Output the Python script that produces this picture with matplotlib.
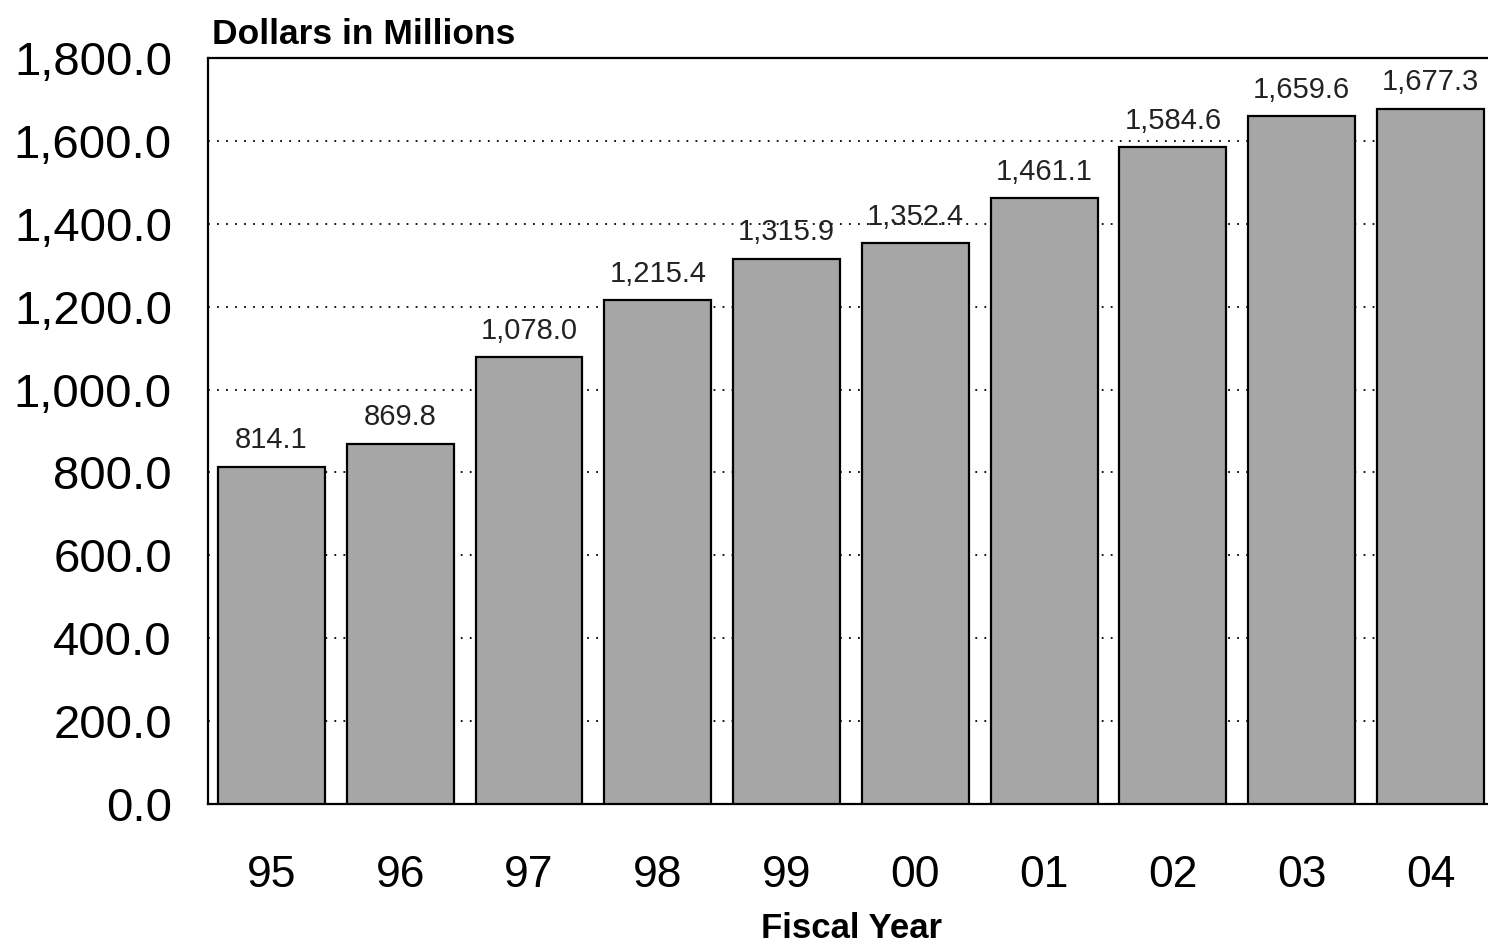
import matplotlib
matplotlib.use("Agg")
import matplotlib.pyplot as plt
from matplotlib.ticker import FuncFormatter

# datos
years = ["95", "96", "97", "98", "99", "00", "01", "02", "03", "04"]
values = [814.1, 869.8, 1078.0, 1215.4, 1315.9, 1352.4, 1461.1, 1584.6, 1659.6, 1677.3]
yticks = [0, 200, 400, 600, 800, 1000, 1200, 1400, 1600, 1800]

plt.rcParams['font.family'] = ['Liberation Sans', 'DejaVu Sans']

fig = plt.figure(figsize=(14.88, 9.46), dpi=100)
# el eje se sale por la derecha, como en el original
ax = fig.add_axes([0.1398, 0.1501, 0.8648, 0.7886])

x = list(range(len(years)))
bars = ax.bar(x, values, width=0.83, color='#a6a6a6', edgecolor='black',
              linewidth=1.6, zorder=3)

for xi, v in zip(x, values):
    ax.annotate(f"{v:,.1f}", (xi, v), xytext=(0, 9), textcoords='offset points',
                ha='center', va='bottom', fontsize=21, color='#222222', zorder=4)

ax.set_xlim(-0.493, 9.5)
ax.set_ylim(0, 1800)
ax.set_yticks(yticks)
ax.yaxis.set_major_formatter(FuncFormatter(lambda v, p: f"{v:,.1f}"))
ax.set_xticks(x)
ax.set_xticklabels(years)

ax.tick_params(axis='y', length=0, pad=26, labelsize=34)
ax.tick_params(axis='x', length=0, pad=37, labelsize=32)

# grilla punteada
ax.grid(axis='y', linestyle=(0, (1, 4)), linewidth=1.3, color='black', zorder=0)
ax.set_axisbelow(True)

for s in ['left', 'bottom', 'top']:
    ax.spines[s].set_linewidth(1.6)
ax.spines['right'].set_visible(False)

ax.set_xlabel("Fiscal Year", fontsize=25, fontweight='bold', labelpad=11)
fig.text(212 / 1488, 1 - 44 / 946, "Dollars in Millions", fontsize=25.5,
         fontweight='bold', ha='left', va='baseline')

fig.savefig("out.png", dpi=100)
